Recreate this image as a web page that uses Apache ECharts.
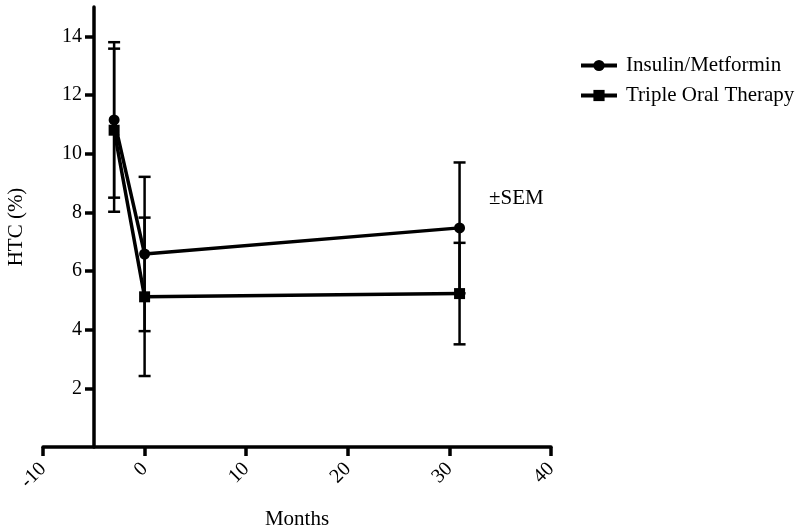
<!DOCTYPE html>
<html>
<head>
<meta charset="utf-8">
<script src="https://cdn.jsdelivr.net/npm/echarts@6/dist/echarts.min.js"></script>
<style>
  html, body { margin: 0; padding: 0; background: #fff; }
  #chart { width: 800px; height: 532px; }
</style>
</head>
<body>
<div id="chart"></div>
<script>
// months of follow-up
const months = [-3, 0, 31];
// HTC (%) means and SEM per group
const insulinMean = [11.15, 6.58, 7.47];
const insulinSem = [2.65, 2.63, 2.23];
const tripleMean = [10.8, 5.12, 5.23];
const tripleSem = [2.78, 2.7, 1.73];
const seriesNames = ["Insulin/Metformin", "Triple Oral Therapy"];
const yTicks = [2, 4, 6, 8, 10, 12, 14];

const font = "'Liberation Serif', 'Times New Roman', serif";

const toPoints = (mean) => months.map((m, i) => [m, mean[i]]);
const toErrors = (mean, sem) => months.map((m, i) => [m, mean[i] - sem[i], mean[i] + sem[i]]);

function renderError(params, api) {
  const x = api.value(0);
  const lo = api.coord([x, api.value(1)]);
  const hi = api.coord([x, api.value(2)]);
  const half = 6;
  const style = { stroke: "#000", lineWidth: 2.5 };
  return {
    type: "group",
    children: [
      { type: "line", shape: { x1: lo[0], y1: lo[1], x2: hi[0], y2: hi[1] }, style },
      { type: "line", shape: { x1: lo[0] - half, y1: lo[1], x2: lo[0] + half, y2: lo[1] }, style },
      { type: "line", shape: { x1: hi[0] - half, y1: hi[1], x2: hi[0] + half, y2: hi[1] }, style },
    ],
  };
}

const chart = echarts.init(document.getElementById("chart"));

const option = {
  backgroundColor: "#fff",
  animation: false,
  title: {
    text: "±SEM",
    left: 484,
    top: 183,
    textStyle: { fontFamily: font, fontSize: 21, fontWeight: "normal", color: "#000" },
  },
  legend: {
    orient: "vertical",
    left: 574,
    top: 50,
    itemWidth: 36,
    itemHeight: 14,
    itemGap: 9,
    data: seriesNames,
    lineStyle: { width: 4 },
    textStyle: { fontFamily: font, fontSize: 21, color: "#000", padding: [0, 0, 0, 4] },
  },
  grid: { left: 43, right: 249, top: 7, bottom: 85, outerBoundsMode: "none", containLabel: false },
  xAxis: {
    type: "value",
    min: -10,
    max: 40,
    interval: 10,
    name: "Months",
    nameLocation: "middle",
    nameGap: 62,
    nameTextStyle: { fontFamily: font, fontSize: 21, color: "#000" },
    axisLine: { onZero: true, lineStyle: { color: "#000", width: 3.5 } },
    axisTick: { length: 9, lineStyle: { color: "#000", width: 3.5 } },
    axisLabel: { rotate: 45, margin: 19, fontFamily: font, fontSize: 20, color: "#000" },
    splitLine: { show: false },
  },
  yAxis: {
    type: "value",
    min: 0,
    max: 15,
    offset: -51,
    name: "HTC (%)",
    nameLocation: "middle",
    nameRotate: 90,
    nameGap: 67,
    nameTextStyle: { fontFamily: font, fontSize: 21, color: "#000" },
    axisLine: { show: true, onZero: false, lineStyle: { color: "#000", width: 3.5 } },
    axisTick: { show: true, length: 9, customValues: yTicks, lineStyle: { color: "#000", width: 3.5 } },
    axisLabel: { customValues: yTicks, margin: 12, fontFamily: font, fontSize: 20, color: "#000" },
    splitLine: { show: false },
  },
  series: [
    {
      type: "custom",
      renderItem: renderError,
      data: toErrors(insulinMean, insulinSem),
      encode: { x: 0, y: [1, 2] },
      silent: true,
      z: 1,
    },
    {
      type: "custom",
      renderItem: renderError,
      data: toErrors(tripleMean, tripleSem),
      encode: { x: 0, y: [1, 2] },
      silent: true,
      z: 1,
    },
    {
      name: seriesNames[0],
      type: "line",
      data: toPoints(insulinMean),
      symbol: "circle",
      symbolSize: 11,
      lineStyle: { color: "#000", width: 3.5 },
      itemStyle: { color: "#000" },
      z: 3,
    },
    {
      name: seriesNames[1],
      type: "line",
      data: toPoints(tripleMean),
      symbol: "rect",
      symbolSize: 11,
      lineStyle: { color: "#000", width: 3.5 },
      itemStyle: { color: "#000" },
      z: 3,
    },
  ],
};

chart.setOption(option);
</script>
</body>
</html>
